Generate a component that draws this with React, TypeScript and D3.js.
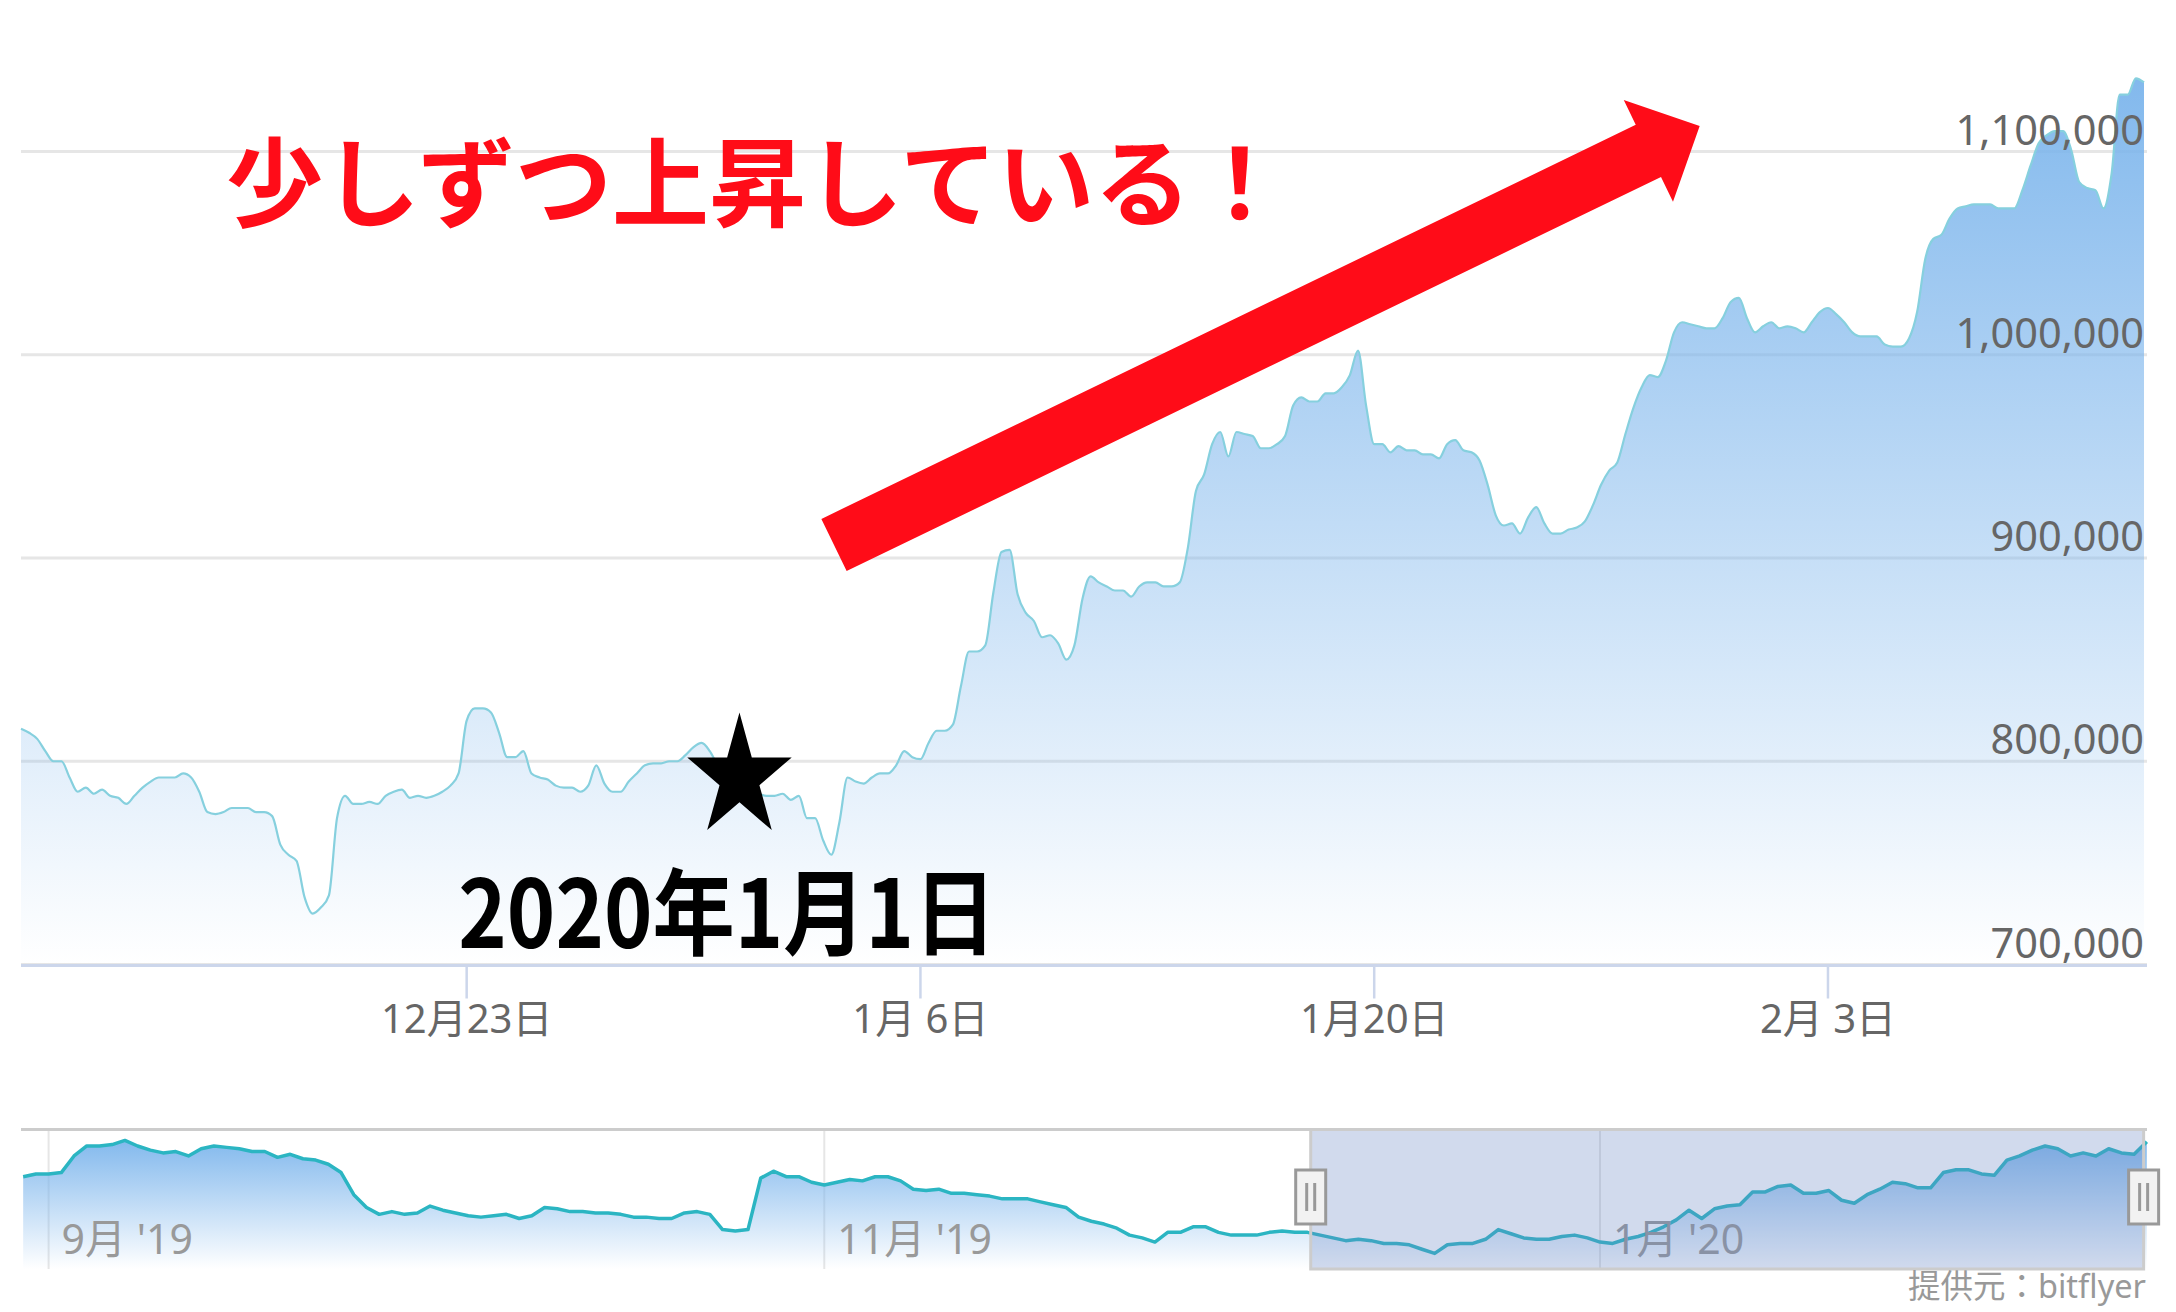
import React from 'react';
import * as d3 from 'd3';

const W = 2176;
const H = 1312;

// Main series: BTC/JPY, one value every 6 hours starting 2019-12-09 06:00
const mainStart = Date.UTC(2019, 11, 9, 6);
const mainIntervalHours = 6;
const mainValues = [
  816000, 814000, 811000, 805000, 800000, 800000, 792000, 785000, 787000, 784000,
  786000, 783000, 782000, 779000, 783000, 787000, 790000, 792000, 792000, 792000,
  794000, 792000, 785000, 775000, 774000, 775000, 777000, 777000, 777000, 775000,
  775000, 773000, 759000, 754000, 751000, 733000, 725000, 728000, 734000, 772000,
  783000, 779000, 779000, 780000, 779000, 783000, 785000, 786000, 782000, 783000,
  782000, 783000, 785000, 788000, 794000, 820000, 826000, 826000, 824000, 814000,
  802000, 802000, 805000, 794000, 792000, 791000, 788000, 787000, 787000, 785000,
  788000, 798000, 789000, 785000, 785000, 790000, 794000, 798000, 799000, 799000,
  800000, 800000, 803000, 807000, 809000, 805000, 798000, 794000, 789000, 787000,
  785000, 784000, 783000, 783000, 784000, 781000, 783000, 772000, 772000, 761000,
  754000, 770000, 792000, 790000, 789000, 792000, 794000, 794000, 798000, 805000,
  802000, 801000, 809000, 815000, 815000, 818000, 837000, 854000, 854000, 857000,
  883000, 903000, 904000, 882000, 873000, 869000, 861000, 862000, 858000, 850000,
  857000, 880000, 891000, 888000, 886000, 884000, 884000, 881000, 886000, 888000,
  888000, 886000, 886000, 888000, 905000, 933000, 941000, 956000, 962000, 950000,
  962000, 961000, 960000, 954000, 954000, 956000, 960000, 975000, 979000, 977000,
  977000, 981000, 981000, 984000, 990000, 1002000, 975000, 956000, 956000, 952000,
  955000, 953000, 953000, 951000, 951000, 949000, 956000, 958000, 953000, 952000,
  948000, 936000, 921000, 916000, 917000, 912000, 920000, 925000, 917000, 912000,
  912000, 914000, 915000, 918000, 926000, 936000, 943000, 947000, 961000, 974000,
  984000, 990000, 989000, 997000, 1011000, 1016000, 1015000, 1014000, 1013000, 1013000,
  1018000, 1026000, 1028000, 1018000, 1011000, 1014000, 1016000, 1013000, 1014000, 1013000,
  1011000, 1016000, 1021000, 1023000, 1020000, 1016000, 1011000, 1009000, 1009000, 1009000,
  1005000, 1004000, 1004000, 1008000, 1021000, 1047000, 1057000, 1059000, 1067000, 1072000,
  1073000, 1074000, 1074000, 1074000, 1072000, 1072000, 1072000, 1081000, 1093000, 1104000,
  1108000, 1110000, 1110000, 1101000, 1085000, 1082000, 1081000, 1072000, 1089000, 1128000,
  1128000, 1136000, 1134000,
];

// Navigator series: one value per day starting 2019-08-30
const navStart = Date.UTC(2019, 7, 30);
const navIntervalHours = 24;
const navValues = [
  1004000, 1014000, 1014000, 1019000, 1079000, 1115000, 1115000, 1120000, 1135000, 1115000,
  1100000, 1090000, 1095000, 1079000, 1105000, 1115000, 1110000, 1105000, 1095000, 1095000,
  1074000, 1085000, 1069000, 1064000, 1049000, 1019000, 939000, 893000, 868000, 878000,
  868000, 873000, 898000, 883000, 873000, 863000, 858000, 863000, 868000, 853000,
  863000, 893000, 888000, 878000, 878000, 873000, 873000, 868000, 858000, 858000,
  853000, 853000, 873000, 878000, 868000, 813000, 808000, 813000, 999000, 1024000,
  1004000, 1004000, 984000, 974000, 984000, 994000, 989000, 1004000, 1004000, 989000,
  959000, 954000, 959000, 944000, 944000, 939000, 934000, 924000, 924000, 924000,
  913000, 903000, 893000, 858000, 843000, 833000, 818000, 793000, 783000, 768000,
  803000, 803000, 823000, 823000, 803000, 793000, 793000, 793000, 803000, 808000,
  803000, 803000, 793000, 783000, 773000, 778000, 773000, 763000, 763000, 758000,
  742000, 727000, 758000, 763000, 763000, 778000, 813000, 798000, 783000, 778000,
  778000, 788000, 793000, 783000, 768000, 763000, 778000, 788000, 803000, 823000,
  848000, 883000, 853000, 888000, 898000, 903000, 949000, 949000, 969000, 974000,
  944000, 944000, 954000, 919000, 908000, 939000, 959000, 984000, 979000, 964000,
  964000, 1019000, 1029000, 1029000, 1014000, 1009000, 1064000, 1079000, 1100000, 1115000,
  1105000, 1079000, 1090000, 1079000, 1105000, 1090000, 1085000, 1130000,
];

const yTicks = [700000, 800000, 900000, 1000000, 1100000];
const xTickDates = ['2019-12-23', '2020-01-06', '2020-01-20', '2020-02-03'];
const xTickLabels = ['12月23日', '1月 6日', '1月20日', '2月 3日'];
const navTickDates = ['2019-09-01', '2019-11-01', '2020-01-01'];
const navTickLabels = ["9月 '19", "11月 '19", "1月 '20"];

const titleText = '少しずつ上昇している！';
const markerText = '2020年1月1日';
const creditText = '提供元：bitflyer';

// annotation anchors in data space
const arrowTail = { date: '2020-01-03T08:00:00Z', value: 906400 };
const arrowTip = { date: '2020-01-30T01:00:00Z', value: 1112500 };
const starAnchor = { date: '2019-12-31T10:00:00Z', value: 792000 };
const markerAnchor = { date: '2019-12-31T01:00:00Z', value: 708000 };

const FONT = '"Noto Sans", "Noto Sans CJK JP", sans-serif';
const CJK = '"Noto Sans CJK JP", "Noto Sans", sans-serif';

export default function App() {
  const H6 = 3600e3;
  const mainData = mainValues.map((v, i) => ({ t: new Date(mainStart + i * mainIntervalHours * H6), v }));
  const navData = navValues.map((v, i) => ({ t: new Date(navStart + i * navIntervalHours * H6), v }));
  const mainEnd = mainData[mainData.length - 1].t;

  const plotL = 21;
  const plotR = 2147;
  const x = d3.scaleUtc().domain([mainData[0].t, mainEnd]).range([plotL, 2144]);
  const y = d3.scaleLinear().domain([700000, 1100000]).range([964.5, 151.5]);
  const plotBottom = y(700000);

  const area = d3.area<any>().x((d) => x(d.t)).y0(plotBottom).y1((d) => y(d.v)).curve(d3.curveMonotoneX);
  const line = d3.line<any>().x((d) => x(d.t)).y((d) => y(d.v)).curve(d3.curveMonotoneX);

  const navTop = 1129.5;
  const navBottom = 1269;
  const nx = d3.scaleUtc().domain([new Date('2019-09-01T00:00:00Z'), new Date('2020-01-01T00:00:00Z')]).range([48.6, 1600]);
  const ny = d3.scaleLinear().domain([667000, 1180000]).range([1270, 1128]);
  const navArea = d3.area<any>().x((d) => nx(d.t)).y0(navBottom).y1((d) => ny(d.v));
  const navLine = d3.line<any>().x((d) => nx(d.t)).y((d) => ny(d.v));

  const maskX0 = nx(mainData[0].t);
  const maskX1 = Math.min(nx(mainEnd), plotR);

  const mainMax = d3.max(mainValues) as number;
  const navMax = d3.max(navValues) as number;

  // arrow geometry
  const tx = x(new Date(arrowTail.date)), ty = y(arrowTail.value);
  const hx = x(new Date(arrowTip.date)), hy = y(arrowTip.value);
  const len = Math.hypot(hx - tx, hy - ty);
  const ux = (hx - tx) / len, uy = (hy - ty) / len;
  const px = -uy, py = ux;
  const shaftW = 58, headL = 57, headW = 113;
  const bx = hx - ux * headL, by = hy - uy * headL;
  const arrowPts: [number, number][] = [
    [tx + px * shaftW / 2, ty + py * shaftW / 2],
    [bx + px * shaftW / 2, by + py * shaftW / 2],
    [bx + px * headW / 2, by + py * headW / 2],
    [hx, hy],
    [bx - px * headW / 2, by - py * headW / 2],
    [bx - px * shaftW / 2, by - py * shaftW / 2],
    [tx - px * shaftW / 2, ty - py * shaftW / 2],
  ];
  const arrowPath = 'M' + arrowPts.map((p) => p.join(',')).join('L') + 'Z';

  const starR = 65;
  const starPath = d3.symbol().type(d3.symbolStar).size((starR * starR) / 0.8908130915)() as string;
  const sx = x(new Date(starAnchor.date)), sy = y(starAnchor.value);

  const mx = x(new Date(markerAnchor.date)), my = y(markerAnchor.value);

  return (
    <svg width={W} height={H} style={{ position: 'absolute', left: 0, top: 0, background: '#fff' }}>
      <defs>
        <linearGradient id="mainGrad" gradientUnits="userSpaceOnUse" x1="0" x2="0" y1={y(mainMax)} y2={plotBottom}>
          <stop offset="0" stopColor="#7cb5ec" stopOpacity={0.95} />
          <stop offset="1" stopColor="#7cb5ec" stopOpacity={0} />
        </linearGradient>
        <linearGradient id="navGrad" gradientUnits="userSpaceOnUse" x1="0" x2="0" y1={ny(navMax)} y2={navBottom}>
          <stop offset="0" stopColor="#7cb5ec" stopOpacity={0.95} />
          <stop offset="1" stopColor="#7cb5ec" stopOpacity={0} />
        </linearGradient>
      </defs>
      <rect width={W} height={H} fill="#fff" />

      {/* grid */}
      {yTicks.map((t) => (
        <line key={t} x1={plotL} x2={plotR} y1={y(t)} y2={y(t)} stroke="#e6e6e6" strokeWidth={3} />
      ))}

      {/* main series */}
      <path d={area(mainData) as string} fill="url(#mainGrad)" />
      <path d={line(mainData) as string} fill="none" stroke="#86d0de" strokeWidth={2.2} />

      {/* x axis */}
      <line x1={plotL} x2={plotR} y1={plotBottom + 1} y2={plotBottom + 1} stroke="#ccd6eb" strokeWidth={3} />
      {xTickDates.map((d, i) => {
        const xx = x(new Date(d + 'T00:00:00Z'));
        return (
          <g key={d}>
            <line x1={xx} x2={xx} y1={plotBottom + 1} y2={plotBottom + 34} stroke="#ccd6eb" strokeWidth={2.5} />
            <text x={xx} y={1033} textAnchor="middle" fontSize={40} fill="#666" fontFamily={FONT} style={{ whiteSpace: 'pre' }}>
              {xTickLabels[i]}
            </text>
          </g>
        );
      })}

      {/* y labels */}
      {yTicks.map((t) => (
        <text key={t} x={2144} y={y(t) - 7} textAnchor="end" fontSize={41.5} fill="#666" fontFamily={FONT}>
          {d3.format(',')(t)}
        </text>
      ))}

      {/* navigator */}
      {navTickDates.map((d) => {
        const xx = nx(new Date(d + 'T00:00:00Z'));
        return <line key={d} x1={xx} x2={xx} y1={navTop} y2={navBottom} stroke="#e6e6e6" strokeWidth={2} />;
      })}
      <path d={navArea(navData) as string} fill="url(#navGrad)" />
      <path d={navLine(navData) as string} fill="none" stroke="#2bb5c2" strokeWidth={3.5} strokeLinejoin="round" />
      {navTickDates.map((d, i) => {
        const xx = nx(new Date(d + 'T00:00:00Z'));
        return (
          <text key={d} x={xx + 13} y={1254} fontSize={41} fill="#999" fontFamily={FONT} style={{ whiteSpace: 'pre' }}>
            {navTickLabels[i]}
          </text>
        );
      })}
      <rect x={maskX0} y={navTop} width={maskX1 - maskX0} height={navBottom - navTop} fill="rgba(102,133,194,0.3)" />
      <line x1={plotL} x2={plotR} y1={navTop} y2={navTop} stroke="#cccccc" strokeWidth={3} />
      <path
        d={`M${maskX0},${navTop} L${maskX0},${navBottom} L${maskX1},${navBottom} L${maskX1},${navTop}`}
        fill="none"
        stroke="#cccccc"
        strokeWidth={3}
      />
      {[maskX0, maskX1].map((hxx, i) => (
        <g key={i}>
          <rect x={hxx - 15} y={1170} width={30} height={54} fill="#f2f2f2" stroke="#999" strokeWidth={3} />
          <line x1={hxx - 4} x2={hxx - 4} y1={1183} y2={1211} stroke="#999" strokeWidth={3} />
          <line x1={hxx + 4} x2={hxx + 4} y1={1183} y2={1211} stroke="#999" strokeWidth={3} />
        </g>
      ))}
      <text x={2146} y={1298} textAnchor="end" fontSize={32.5} fill="#999" fontFamily={FONT}>
        {creditText}
      </text>

      {/* annotations */}
      <path d={arrowPath} fill="#ff0c18" />
      <text x={226} y={219} fontSize={97} fontWeight={700} fill="#ff0c18" fontFamily={CJK}>
        {titleText}
      </text>
      <path d={starPath} transform={`translate(${sx},${sy}) scale(0.845,1)`} fill="#000" />
      <text
        x={mx - 269}
        y={my}
        fontSize={94}
        fontWeight={700}
        fill="#000"
        fontFamily={CJK}
        textLength={538}
        lengthAdjust="spacingAndGlyphs"
      >
        {markerText}
      </text>
    </svg>
  );
}
